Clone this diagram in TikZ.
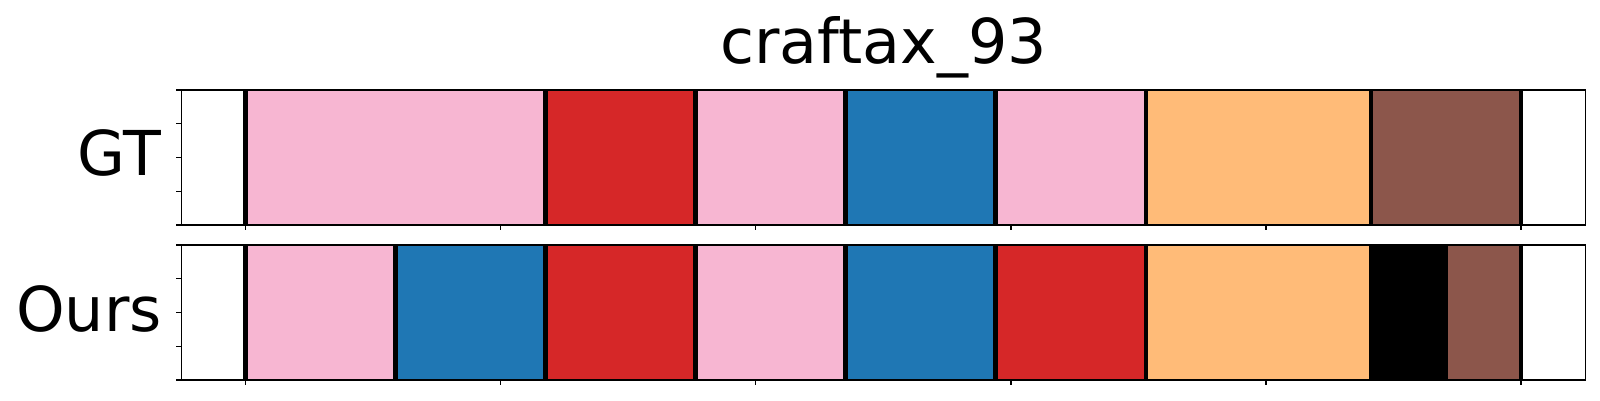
\documentclass[tikz,border=0pt]{standalone}
\usepackage{fontspec}
\setmainfont{DejaVu Sans}
\definecolor{rose}{HTML}{F7B6D2}
\definecolor{rouge}{HTML}{D62728}
\definecolor{bleu}{HTML}{1F77B4}
\definecolor{peche}{HTML}{FFBB78}
\definecolor{brun}{HTML}{8C564B}
\begin{document}
\begin{tikzpicture}
		\tikzstyle{seg}=[minimum height=1.35cm, inner sep=0, outer sep=0]
		\tikzstyle{sep}=[line width=1.15pt]
		\tikzstyle{cadre}=[line width=0.35pt]
		\tikzstyle{etiq}=[font=\fontsize{17.6}{20}\selectfont, inner sep=0]
		\useasboundingbox (0,0) rectangle (16,4);
		\node[etiq, anchor=base] (titre) at (8.835,3.37) {craftax\_93};
		\node[etiq, anchor=base east] (gt) at (1.615,2.25) {GT};
		\node[etiq, anchor=base east] (ours) at (1.625,0.69) {Ours};
		% GT (haut)
		\node[seg, fill=rose, minimum width=3cm] (gtA) at (3.955,2.425) {};
		\node[seg, fill=rouge, minimum width=1.5cm] (gtB) at (6.205,2.425) {};
		\node[seg, fill=rose, minimum width=1.5cm] (gtC) at (7.705,2.425) {};
		\node[seg, fill=bleu, minimum width=1.5cm] (gtD) at (9.205,2.425) {};
		\node[seg, fill=rose, minimum width=1.5cm] (gtE) at (10.705,2.425) {};
		\node[seg, fill=peche, minimum width=2.25cm] (gtF) at (12.58,2.425) {};
		\node[seg, fill=brun, minimum width=1.5cm] (gtG) at (14.455,2.425) {};
		% Ours (bas)
		\node[seg, fill=rose, minimum width=1.5cm] (oA) at (3.205,0.875) {};
		\node[seg, fill=bleu, minimum width=1.5cm] (oB) at (4.705,0.875) {};
		\node[seg, fill=rouge, minimum width=1.5cm] (oC) at (6.205,0.875) {};
		\node[seg, fill=rose, minimum width=1.5cm] (oD) at (7.705,0.875) {};
		\node[seg, fill=bleu, minimum width=1.5cm] (oE) at (9.205,0.875) {};
		\node[seg, fill=rouge, minimum width=1.5cm] (oF) at (10.705,0.875) {};
		\node[seg, fill=peche, minimum width=2.235cm] (oG) at (12.5725,0.875) {};
		\node[seg, fill=black, minimum width=0.79cm] (oH) at (14.085,0.875) {};
		\node[seg, fill=brun, minimum width=0.725cm] (oI) at (14.8425,0.875) {};
		% separateurs
		\foreach \x in {2.455,5.455,6.955,8.455,9.955,11.455,13.705,15.205}
			\draw[sep] (\x,1.75) -- (\x,3.10);
		\foreach \x in {2.455,3.955,5.455,6.955,8.455,9.955,11.455,13.705,15.205}
			\draw[sep] (\x,0.20) -- (\x,1.55);
		% cadres et graduations
		\draw[cadre] (1.813,1.75) rectangle (15.857,3.10);
		\draw[cadre] (1.813,0.20) rectangle (15.857,1.55);
		\foreach \y in {0,0.3375,0.675,1.0125,1.35} {
			\draw[cadre] (1.813,{1.75+\y}) -- ++(-0.05,0);
			\draw[cadre] (1.813,{0.20+\y}) -- ++(-0.05,0);
		}
		\foreach \x in {2.457,5.008,7.558,10.109,12.659,15.21} {
			\draw[cadre] (\x,1.75) -- ++(0,-0.05);
			\draw[cadre] (\x,0.20) -- ++(0,-0.05);
		}
	\end{tikzpicture}
\end{document}
